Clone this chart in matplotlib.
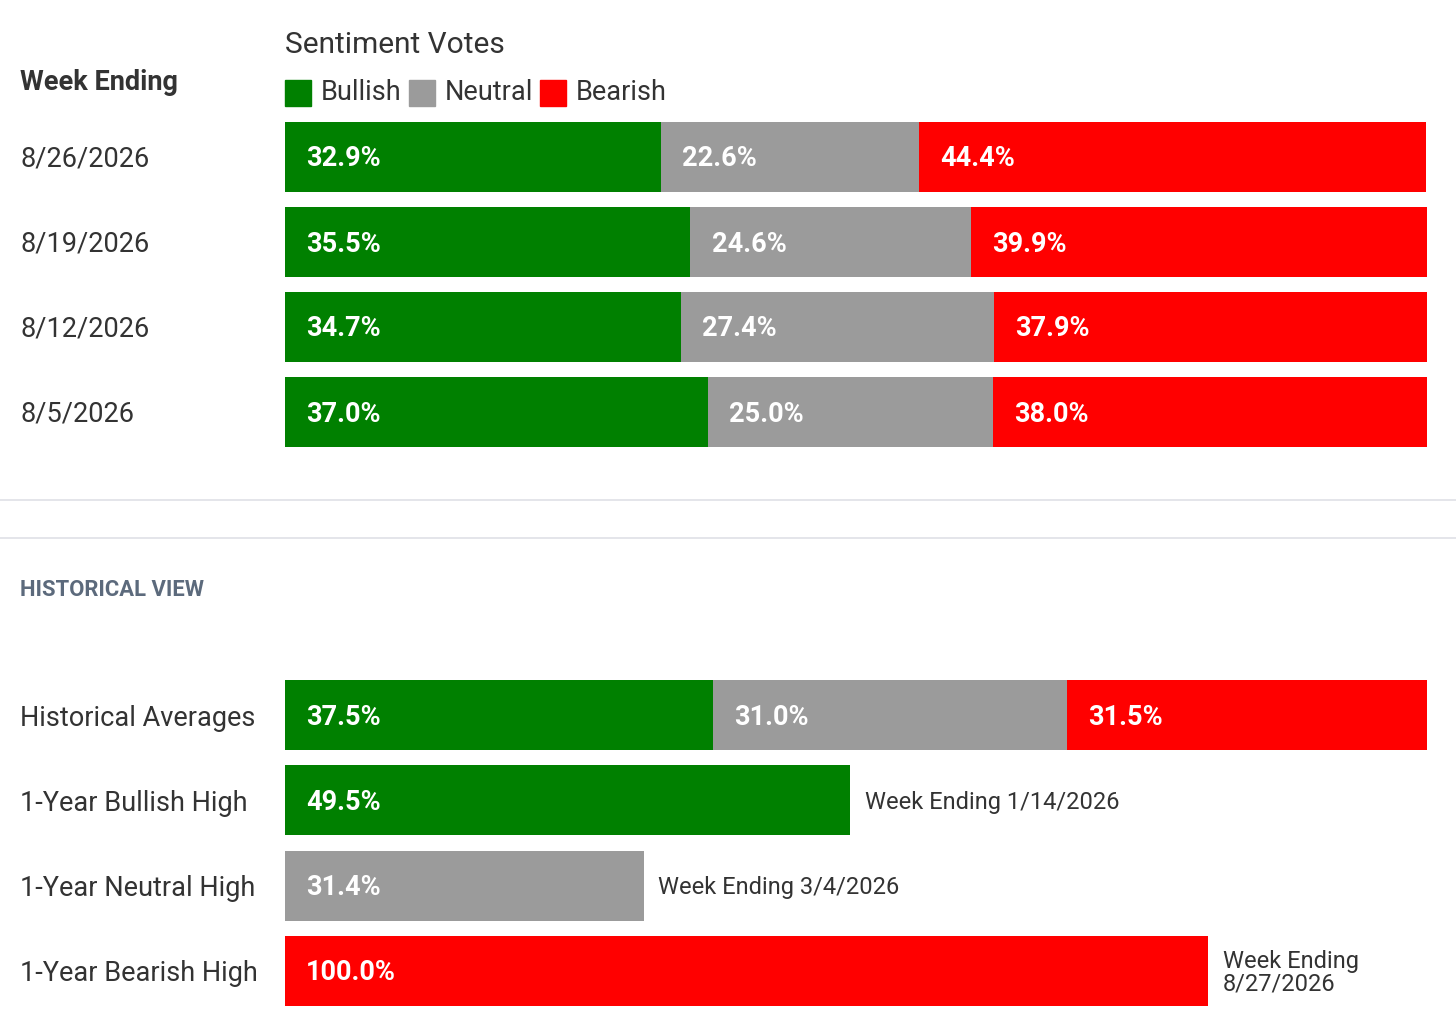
import matplotlib.pyplot as plt
from matplotlib.lines import Line2D
from matplotlib.patches import Rectangle
from matplotlib.transforms import offset_copy

plt.rcParams['font.family'] = ['Roboto', 'DejaVu Sans']

# weekly sentiment votes (%)
weeks = ['8/26/2026', '8/19/2026', '8/12/2026', '8/5/2026']
bullish = [32.9, 35.5, 34.7, 37.0]
neutral = [22.6, 24.6, 27.4, 25.0]
bearish = [44.4, 39.9, 37.9, 38.0]

# historical view
hist_avg = [37.5, 31.0, 31.5]
high_labels = ['1-Year Bullish High', '1-Year Neutral High', '1-Year Bearish High']
high_values = [49.5, 31.4, 100.0]
high_dates = ['Week Ending 1/14/2026', 'Week Ending 3/4/2026', 'Week Ending\n8/27/2026']

GREEN, GRAY, RED = '#008000', '#9b9b9b', '#ff0000'
TXT = '#333333'
W, H = 1456, 1034
DY = 2  # px nudge down for vertically centred text

fig = plt.figure(figsize=(W / 100, H / 100), dpi=100)


def fy(ypx):
    return 1 - (ypx + DY) / H


def px_axes(top, bottom):
    left, right = 285, 1427
    ax = fig.add_axes([left / W, 1 - bottom / H, (right - left) / W, (bottom - top) / H])
    ax.set_xlim(0, 100)
    ax.set_ylim(3.5, -0.5)
    ax.axis('off')
    return ax


def seg_label(ax, x, y, v):
    tr = offset_copy(ax.transData, fig=fig, y=-DY * 0.72, units='points')
    ax.text(x + 1.85, y, f'{v:.1f}%', color='white', fontsize=19.5, fontweight='bold',
            va='center', ha='left', transform=tr)


# ---- top: weekly votes ----
ax1 = px_axes(114.5, 454.5)
bh = 0.82
for i in range(len(weeks)):
    left = 0
    for v, c in zip([bullish[i], neutral[i], bearish[i]], [GREEN, GRAY, RED]):
        ax1.barh(i, v, left=left, height=bh, color=c, edgecolor='none')
        seg_label(ax1, left, i, v)
        left += v
    fig.text(20 / W, fy(157 + 85 * i), weeks[i], fontsize=19.5, color=TXT, va='center')

fig.text(20 / W, fy(80), 'Week Ending', fontsize=19.5, fontweight='bold', color=TXT, va='center')
fig.text(285 / W, fy(43), 'Sentiment Votes', fontsize=21.5, color=TXT, va='center')

# legend chained in pixels
fig.canvas.draw()
renderer = fig.canvas.get_renderer()
x = 285
for name, c in zip(['Bullish', 'Neutral', 'Bearish'], [GREEN, GRAY, RED]):
    fig.add_artist(Rectangle((x / W, 1 - 106 / H), 26 / W, 26 / H, color=c,
                             transform=fig.transFigure))
    t = fig.text((x + 36) / W, fy(91), name, fontsize=19.5, color=TXT, va='center')
    x = x + 36 + t.get_window_extent(renderer).width + 7

# dividers
for yp in [500, 538]:
    fig.add_artist(Line2D([0, 1], [1 - yp / H, 1 - yp / H], color='#e2e3e8', lw=1.3,
                          transform=fig.transFigure))

fig.text(20 / W, fy(588), 'HISTORICAL VIEW', fontsize=15.8, fontweight='bold',
         color='#5c6a7c', va='center')

# ---- bottom: historical ----
ax2 = px_axes(672.5, 1013.5)
left = 0
for v, c in zip(hist_avg, [GREEN, GRAY, RED]):
    ax2.barh(0, v, left=left, height=bh, color=c, edgecolor='none')
    seg_label(ax2, left, 0, v)
    left += v
fig.text(20 / W, fy(716), 'Historical Averages', fontsize=19.5, color=TXT, va='center')

max_bar = 80.8  # longest single bar leaves room for its date note
for j, (lab, v, d, c) in enumerate(zip(high_labels, high_values, high_dates, [GREEN, GRAY, RED])):
    row = j + 1
    length = min(v, max_bar)
    ax2.barh(row, length, height=bh, color=c, edgecolor='none')
    seg_label(ax2, 0, row, v)
    tr = offset_copy(ax2.transData, fig=fig, y=-DY * 0.72, units='points')
    ax2.text(length + 1.3, row, d, fontsize=17, color=TXT, va='center', ha='left',
             linespacing=1.0, transform=tr)
    fig.text(20 / W, fy(716 + 85.3 * row), lab, fontsize=19.5, color=TXT, va='center')

fig.savefig('out.png', dpi=100, facecolor='white')
